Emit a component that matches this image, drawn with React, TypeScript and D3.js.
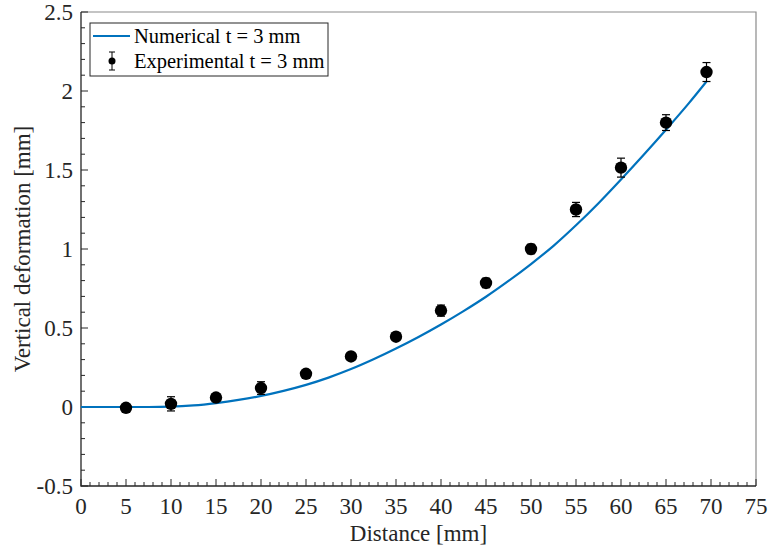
import React, { useEffect, useRef } from 'react';
import * as d3 from 'd3';

// experimental points (distance mm, deformation mm, error mm)
const expX = [5, 10, 15, 20, 25, 30, 35, 40, 45, 50, 55, 60, 65, 69.5];
const expY = [-0.005, 0.02, 0.06, 0.12, 0.21, 0.32, 0.445, 0.61, 0.785, 1.0, 1.25, 1.515, 1.8, 2.12];
const expErr = [0.02, 0.045, 0.02, 0.04, 0.02, 0.02, 0.02, 0.035, 0.03, 0.03, 0.045, 0.06, 0.05, 0.06];

// numerical curve
const numX = [0, 2.5, 5, 7.5, 10, 12.5, 15, 17.5, 20, 22.5, 25, 27.5, 30, 32.5, 35, 37.5, 40, 42.5, 45, 47.5, 50, 52.5, 55, 57.5, 60, 62.5, 65, 67.5, 69.5];
const numY = [0, 0, 0, 0, 0.002, 0.01, 0.025, 0.045, 0.07, 0.102, 0.14, 0.186, 0.24, 0.302, 0.37, 0.443, 0.522, 0.607, 0.698, 0.798, 0.905, 1.02, 1.15, 1.29, 1.44, 1.595, 1.755, 1.92, 2.06];

const xTicks = d3.range(0, 76, 5);
const yTicks = [-0.5, 0, 0.5, 1, 1.5, 2, 2.5];

const W = 768, H = 548;
const margin = { left: 81, right: 12, top: 12, bottom: 62 };
const textColor = '#262626';
const blue = '#0072BD';
const font = '"Liberation Serif", "Times New Roman", serif';

export default function App() {
  const ref = useRef<SVGSVGElement>(null);

  useEffect(() => {
    const svg = d3.select(ref.current);
    svg.selectAll('*').remove();

    const x = d3.scaleLinear().domain([0, 75]).range([margin.left, W - margin.right]);
    const y = d3.scaleLinear().domain([-0.5, 2.5]).range([H - margin.bottom, margin.top]);

    const x0 = x(0), x1 = x(75), y0 = y(-0.5), y1 = y(2.5);

    svg.append('rect').attr('width', W).attr('height', H).attr('fill', 'white');

    // box
    svg.append('path')
      .attr('d', `M${x0},${y1}H${x1}V${y0}`)
      .attr('fill', 'none').attr('stroke', '#8a8a8a').attr('stroke-width', 1.2);

    // ticks (major + minor, inward)
    const g = svg.append('g').attr('stroke', textColor).attr('stroke-width', 1);
    d3.range(0, 76, 1).forEach(v => {
      const len = v % 5 === 0 ? 7 : 4;
      g.append('line').attr('x1', x(v)).attr('x2', x(v)).attr('y1', y0).attr('y2', y0 - len);
    });
    d3.range(-5, 26, 1).forEach(k => {
      const len = k % 5 === 0 ? 7 : 4;
      const v = k / 10;
      g.append('line').attr('x1', x0).attr('x2', x0 + len).attr('y1', y(v)).attr('y2', y(v));
    });
    svg.append('path')
      .attr('d', `M${x0},${y1}V${y0}H${x1}`)
      .attr('fill', 'none').attr('stroke', textColor).attr('stroke-width', 1.3);

    // tick labels
    svg.append('g').selectAll('text').data(xTicks).join('text')
      .attr('x', d => x(d)).attr('y', y0 + 28)
      .attr('text-anchor', 'middle')
      .attr('font-family', font).attr('font-size', 23).attr('fill', textColor)
      .text(d => String(d));
    svg.append('g').selectAll('text').data(yTicks).join('text')
      .attr('x', x0 - 8).attr('y', d => y(d) + 8)
      .attr('text-anchor', 'end')
      .attr('font-family', font).attr('font-size', 23).attr('fill', textColor)
      .text(d => String(d));

    // axis titles
    svg.append('text')
      .attr('x', (x0 + x1) / 2).attr('y', H - 7)
      .attr('text-anchor', 'middle')
      .attr('font-family', font).attr('font-size', 23).attr('fill', textColor)
      .text('Distance [mm]');
    svg.append('text')
      .attr('transform', `translate(30,${(y0 + y1) / 2}) rotate(-90)`)
      .attr('text-anchor', 'middle')
      .attr('font-family', font).attr('font-size', 23).attr('fill', textColor)
      .text('Vertical deformation [mm]');

    // numerical line
    const line = d3.line<number>()
      .x((d, i) => x(numX[i]))
      .y(d => y(d))
      .curve(d3.curveMonotoneX);
    svg.append('path')
      .attr('d', line(numY))
      .attr('fill', 'none').attr('stroke', blue).attr('stroke-width', 2.2);

    // error bars + markers
    const pts = expX.map((v, i) => ({ x: v, y: expY[i], e: expErr[i] }));
    const eb = svg.append('g').attr('stroke', 'black').attr('stroke-width', 1.2);
    pts.forEach(p => {
      eb.append('line').attr('x1', x(p.x)).attr('x2', x(p.x)).attr('y1', y(p.y - p.e)).attr('y2', y(p.y + p.e));
      [p.y - p.e, p.y + p.e].forEach(v => {
        eb.append('line').attr('x1', x(p.x) - 4).attr('x2', x(p.x) + 4).attr('y1', y(v)).attr('y2', y(v));
      });
    });
    svg.append('g').selectAll('circle').data(pts).join('circle')
      .attr('cx', d => x(d.x)).attr('cy', d => y(d.y)).attr('r', 6.2)
      .attr('fill', 'black');

    // legend
    const lg = svg.append('g');
    lg.append('rect').attr('x', 90).attr('y', 23).attr('width', 238).attr('height', 53)
      .attr('fill', 'white').attr('stroke', textColor).attr('stroke-width', 1);
    lg.append('line').attr('x1', 93).attr('x2', 130).attr('y1', 36).attr('y2', 36)
      .attr('stroke', blue).attr('stroke-width', 2.2);
    lg.append('text').attr('x', 134).attr('y', 43)
      .attr('font-family', font).attr('font-size', 20.5).attr('fill', 'black')
      .text('Numerical t = 3 mm');
    const ly = 61;
    lg.append('line').attr('x1', 112).attr('x2', 112).attr('y1', ly - 9).attr('y2', ly + 9).attr('stroke', 'black');
    lg.append('line').attr('x1', 109).attr('x2', 115).attr('y1', ly - 9).attr('y2', ly - 9).attr('stroke', 'black');
    lg.append('line').attr('x1', 109).attr('x2', 115).attr('y1', ly + 9).attr('y2', ly + 9).attr('stroke', 'black');
    lg.append('circle').attr('cx', 112).attr('cy', ly).attr('r', 3.5).attr('fill', 'black');
    lg.append('text').attr('x', 134).attr('y', ly + 7)
      .attr('font-family', font).attr('font-size', 20.5).attr('fill', 'black')
      .text('Experimental t = 3 mm');
  }, []);

  return (
    <svg ref={ref} width={W} height={H}
      style={{ position: 'absolute', left: 0, top: 0, display: 'block' }} />
  );
}
